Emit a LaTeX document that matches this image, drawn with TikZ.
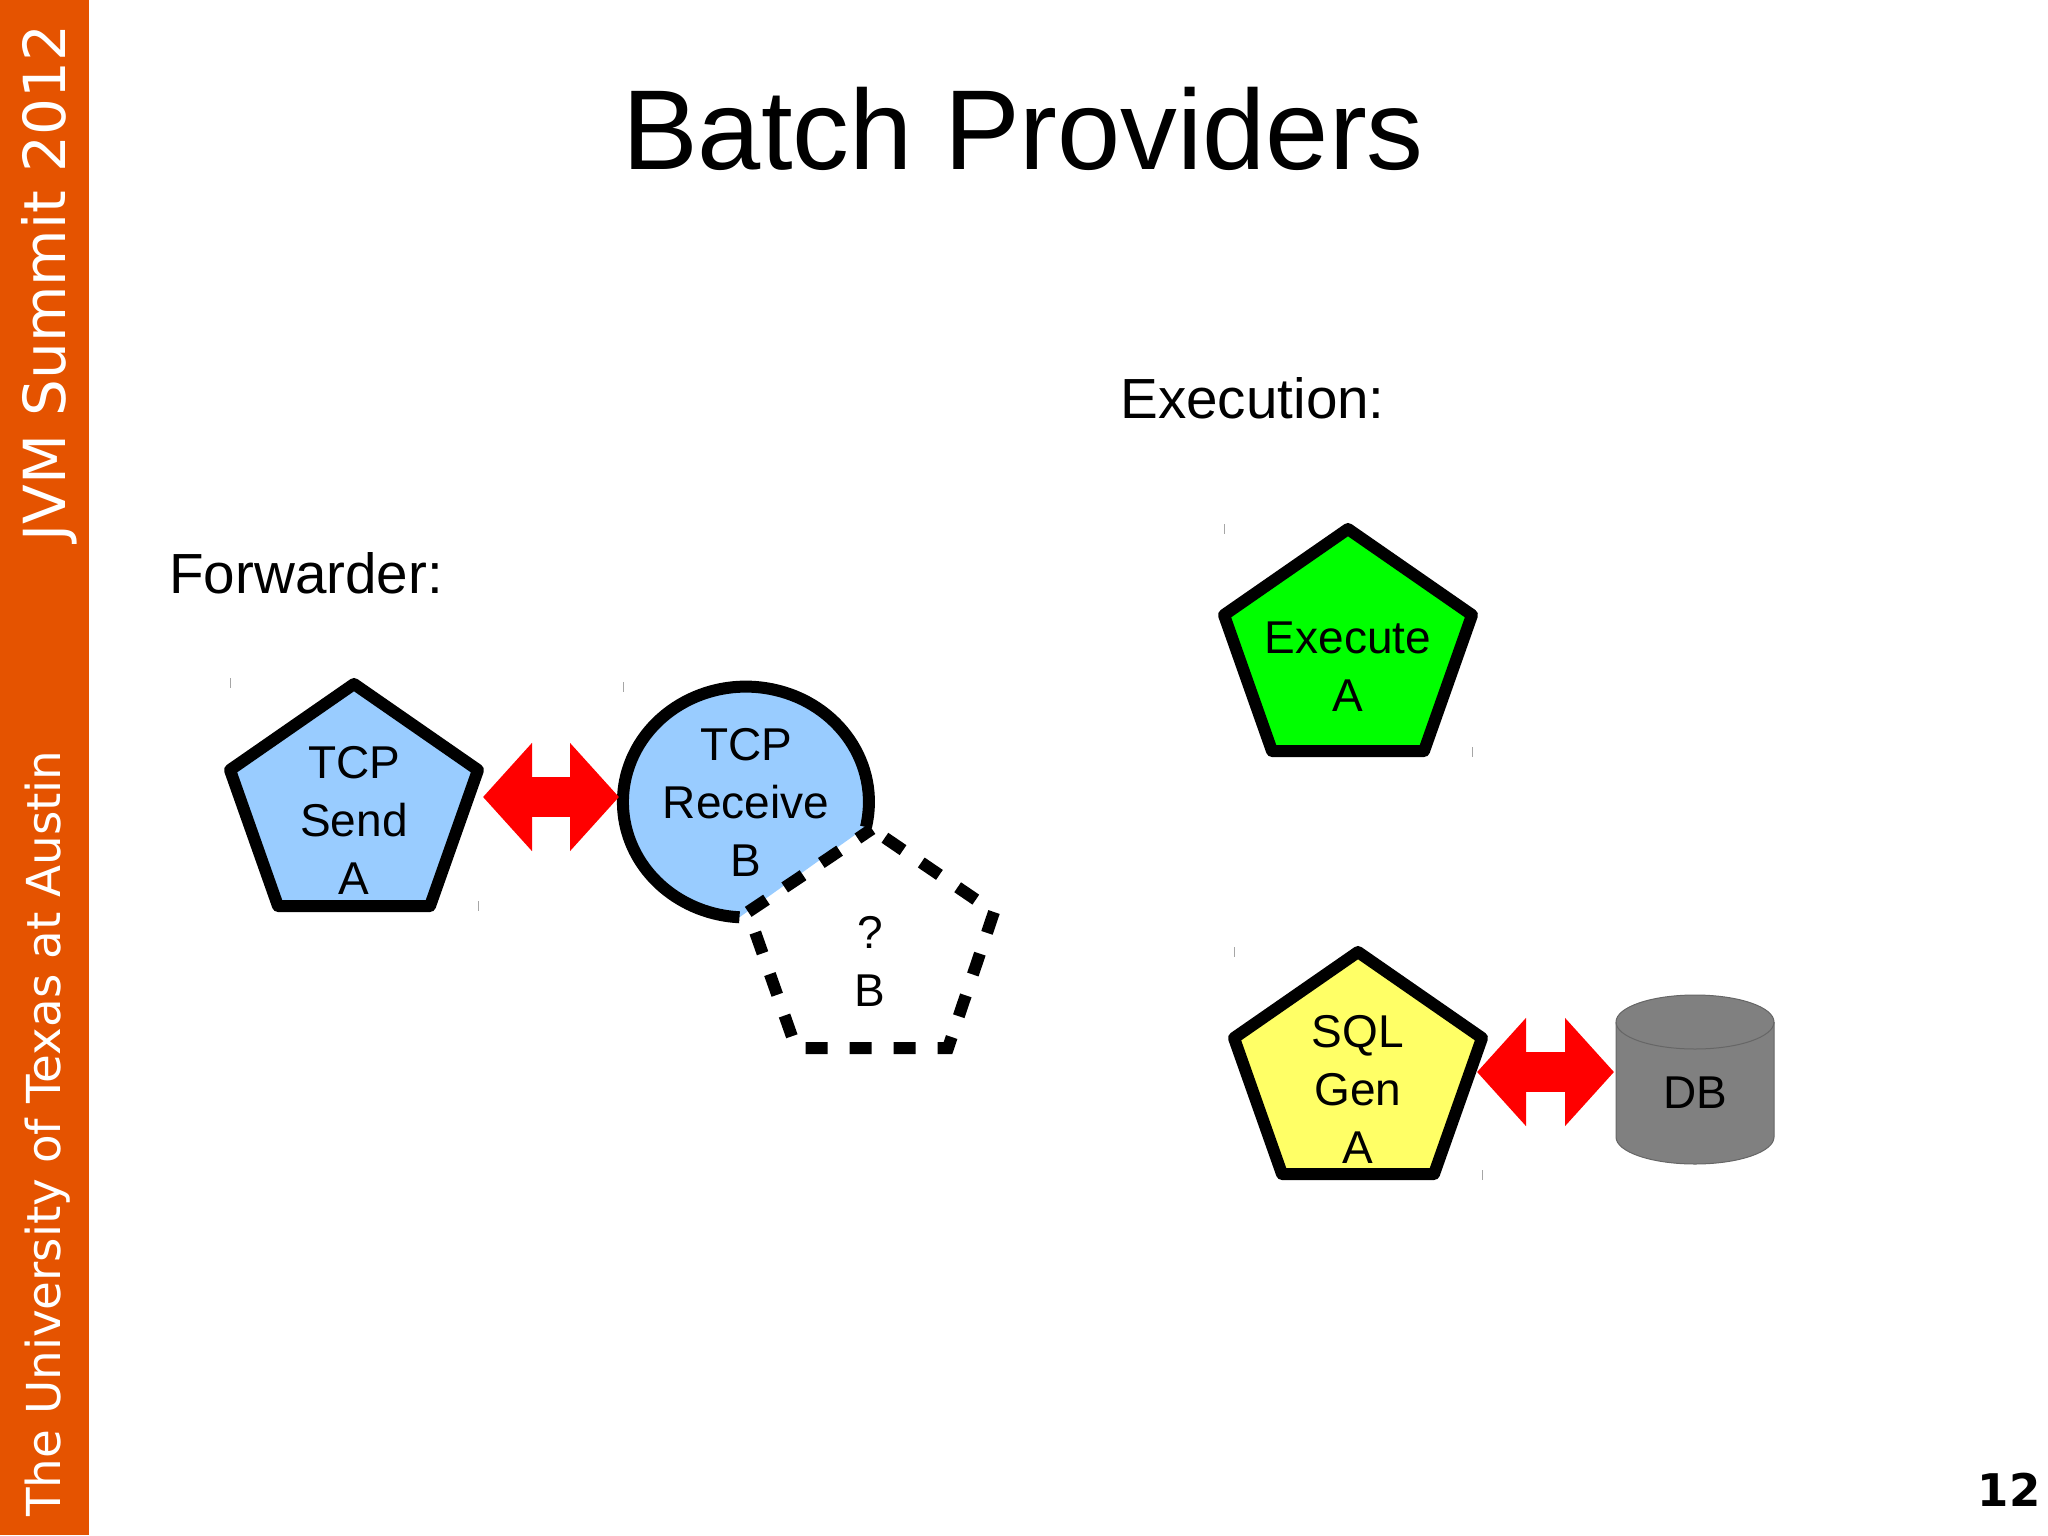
\documentclass[tikz,border=0pt]{standalone}
\usepackage{fontspec}
\setmainfont{Liberation Sans}
\newfontfamily\bandfont{DejaVu Sans}
\usetikzlibrary{arrows.meta}
\definecolor{bandorange}{HTML}{E55300}
\definecolor{tcpblue}{HTML}{99CCFF}
\definecolor{execgreen}{HTML}{00FF00}
\definecolor{sqlyellow}{HTML}{FFFF66}
\tikzset{
  heavy/.style={black, line width=6pt, line join=round},
  lbl/.style={align=center, inner sep=0pt, font=\fontsize{23}{29}\selectfont},
  heading/.style={anchor=west, inner sep=0pt, font=\fontsize{28.3}{34}\selectfont},
  bandtxt/.style={white, rotate=90, anchor=base west, inner sep=0pt},
  biglink/.style={red, line width=20pt, {Triangle[length=24.5pt,width=52.7pt]}-{Triangle[length=24.5pt,width=52.7pt]}},
  tick/.style={gray!70, line width=.4pt},
  dbline/.style={draw=black!60, line width=.5pt},
}
\begin{document}
\begin{tikzpicture}[x=.5pt, y=-.5pt]
\useasboundingbox (0,0) rectangle (2048,1535);
\fill[bandorange] (0,0) rectangle (89,1535);
\node[bandtxt, font=\bandfont\fontsize{29}{34}\selectfont] (conf) at (65,542) {JVM Summit 2012};
\node[bandtxt, font=\bandfont\fontsize{23.4}{28}\selectfont] (univ) at (60,1517) {The University of Texas at Austin};
\node[anchor=base, inner sep=0pt, font=\fontsize{56.8}{60}\selectfont] (title) at (1023,170) {Batch Providers};
\node[heading] (fwd) at (169,573) {Forwarder:};
\node[heading] (exec) at (1120,398) {Execution:};
\node[inner sep=0pt, font=\bandfont\bfseries\fontsize{22.5}{26}\selectfont] (page) at (2009,1490) {12};

\foreach \x/\y in {230/678, 623/682, 478/901, 1224/524, 1472/747, 1234/947, 1482/1170} \draw[tick] (\x,\y) -- ++(0,10);

% shapes
\foreach \x/\y/\col in {354/684/tcpblue, 1348/529/execgreen, 1358/952/sqlyellow}
  \draw[heavy, fill=\col] (\x,\y) -- ++(124,86) -- ++(-48,136) -- ++(-152,0) -- ++(-48,-136) -- cycle;
\fill[tcpblue] (866,827) arc[start angle=-12.5, end angle=267, x radius=61.5pt, y radius=57.7pt] -- cycle;
\draw[heavy, line join=miter] (866,827) arc[start angle=-12.5, end angle=267, x radius=61.5pt, y radius=57.7pt];
\draw[heavy, dash pattern=on 11pt off 11pt, dash phase=2.5pt, line join=miter] (872,829) -- (748,912) -- (796,1048) -- (948,1048) -- (994,912) -- cycle;

% db
\draw[dbline, fill=gray] (1616,1022) -- (1616,1137) arc[start angle=180, end angle=360, x radius=39.5pt, y radius=13.5pt] -- (1774,1022) arc[start angle=0, end angle=180, x radius=39.5pt, y radius=13.5pt] -- cycle;
\draw[dbline] (1616,1022) arc[start angle=180, end angle=360, x radius=39.5pt, y radius=13.5pt];

% labels
\node[lbl] (send) at (354,820) {TCP\\Send\\A};
\node[lbl] (recv) at (746,802) {TCP\\Receive\\B};
\node[lbl] (unk) at (870,961) {?\\B};
\node[lbl] (run) at (1348,667) {Execute\\A};
\node[lbl] (sql) at (1358,1089) {SQL\\Gen\\A};
\node[lbl] (db) at (1695,1093) {DB};

% links
\coordinate (sendE) at (483,797);
\coordinate (recvW) at (619,797);
\coordinate (sqlE) at (1477,1072);
\coordinate (dbW) at (1614,1072);
\draw[biglink] (sendE) -- (recvW);
\draw[biglink] (sqlE) -- (dbW);
\end{tikzpicture}
\end{document}
